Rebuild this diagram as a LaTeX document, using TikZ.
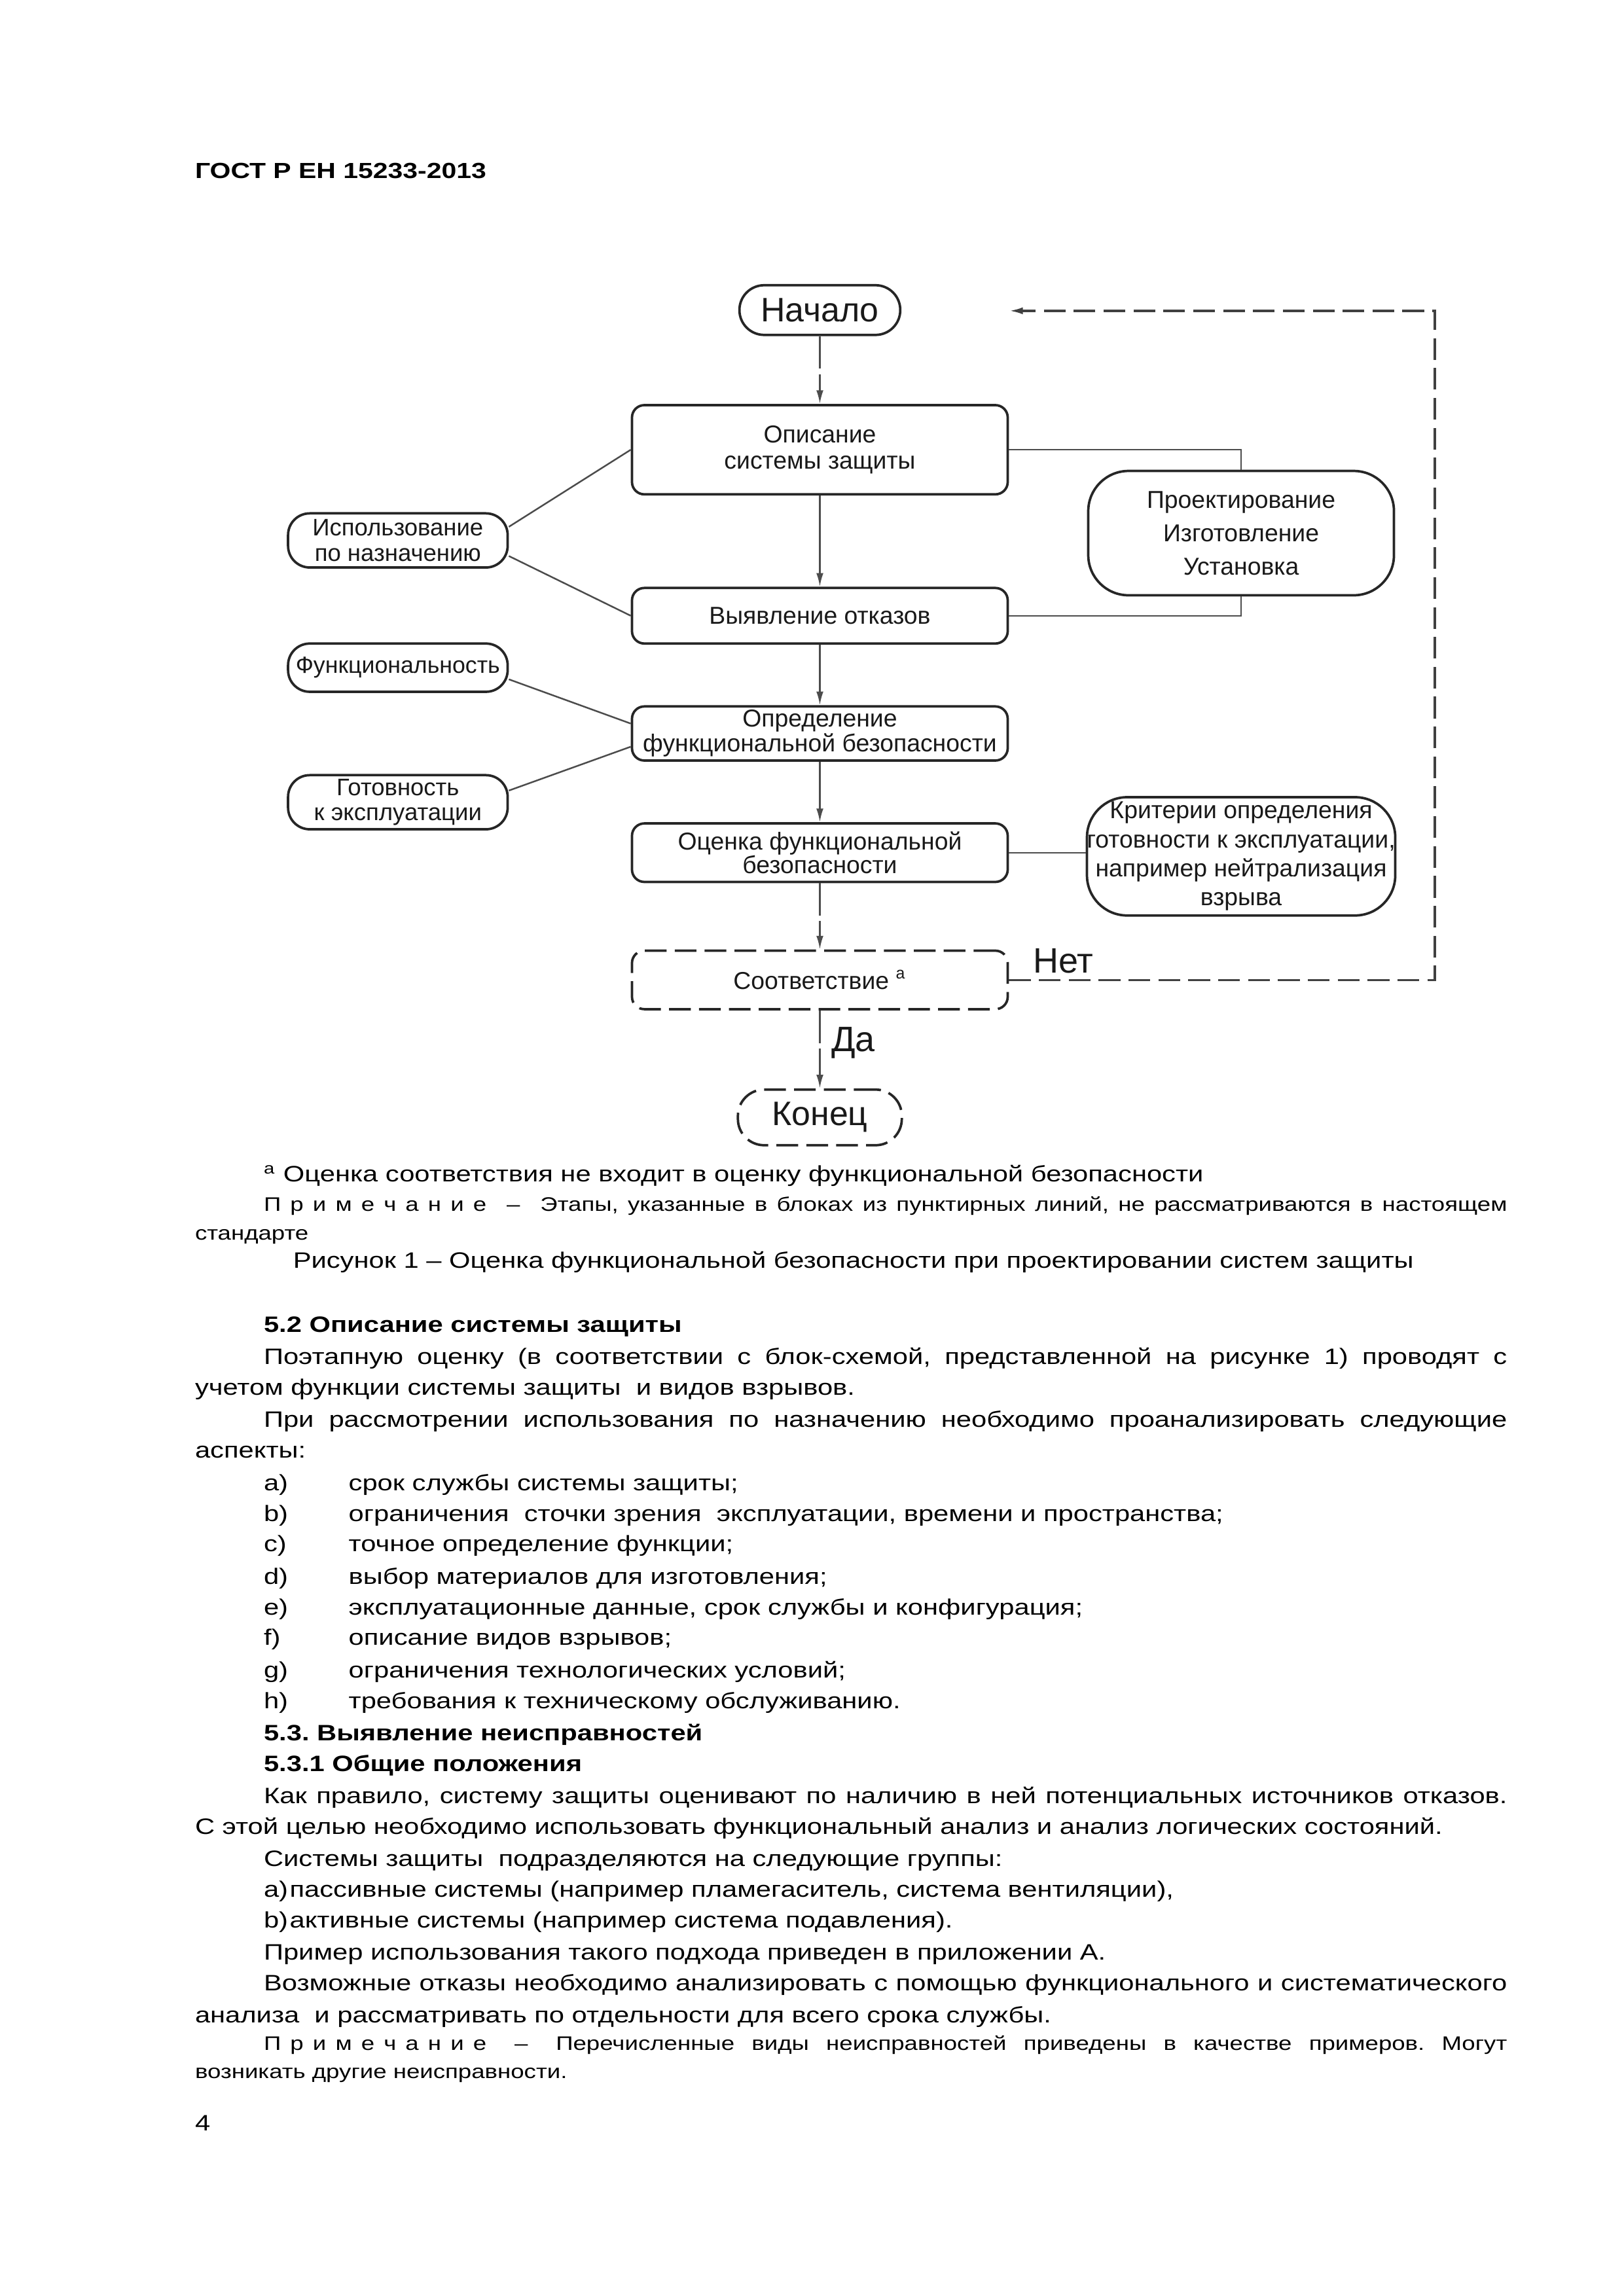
\documentclass[tikz,border=0pt]{standalone}
\usepackage{fontspec}
\setmainfont{Liberation Sans}[FakeStretch=1.225]
\newfontfamily\figfont{Liberation Sans}
\usetikzlibrary{arrows.meta}
\usetikzlibrary{calc}
\frenchspacing

\newcommand{\polnaya}[1]{\makebox[160.8mm][s]{#1}}
\newcommand{\primechanie}{П\kern3.4pt р\kern3.4pt и\kern3.4pt м\kern3.4pt е\kern3.4pt ч\kern3.4pt а\kern3.4pt н\kern3.4pt и\kern3.4pt е}

\tikzset{
  blok/.style={draw=black!85, line width=0.9pt, rounded corners=1.6mm, minimum width=48.6mm,
    align=center, inner sep=0pt, text=black!90, font=\figfont\fontsize{9}{9.6}\selectfont},
  oval/.style={blok, rounded corners=2.8mm, minimum width=28.4mm},
  punkt/.style={dash pattern=on 8pt off 3pt},
  dlin/.style={dash pattern=on 12pt off 2pt},
  svyaz/.style={draw=black!70, line width=0.6pt},
  strelka/.style={svyaz, -{Latex[length=5pt,width=2.6pt]}},
  txt/.style={anchor=base west, inner sep=0pt, font=\fontsize{8.2}{11.5}\selectfont},
  prim/.style={txt, font=\fontsize{7.2}{9.5}\selectfont},
  metka/.style={anchor=base west, inner sep=0pt, text=black!90, font=\figfont\fontsize{13}{13}\selectfont}
}

\begin{document}
\begin{tikzpicture}[x=0.189189mm, y=-0.189189mm]
          \useasboundingbox (0,0) rectangle (1110,1569.86);

          \node[txt, font=\bfseries\fontsize{8.05}{11.5}\selectfont] (zagolovok) at (133,122) {ГОСТ Р ЕН 15233-2013};

          % blocks of the scheme
          \node[oval, minimum width=20.8mm, minimum height=6.43mm, rounded corners=3.2mm,
                font=\figfont\fontsize{12.5}{14}\selectfont] (nachalo) at (560.5,212) {Начало};
          \node[blok, minimum height=11.54mm] (opis) at (560.5,307.5) {Описание\\системы защиты};
          \node[blok, minimum height=7.19mm] (vyyav) at (560.5,421) {Выявление отказов};
          \node[blok, minimum height=7.0mm, font=\figfont\fontsize{9}{9.2}\selectfont] (opred) at (560.5,501.5)
                {Определение\\функциональной безопасности};
          \node[blok, minimum height=7.57mm, font=\figfont\fontsize{9}{8.8}\selectfont] (ocenka) at (560.5,583)
                {Оценка функциональной\\безопасности};
          \node[blok, punkt, minimum height=7.57mm] (sootv) at (560.5,670) {Соответствие~\textsuperscript{a}};
          \node[oval, punkt, minimum width=21.2mm, minimum height=7.2mm, rounded corners=3.4mm,
                font=\figfont\fontsize{12.5}{14}\selectfont] (konec) at (560.5,764) {Конец};

          \node[oval, minimum height=7.0mm, font=\figfont\fontsize{8.8}{9.2}\selectfont] (ispol) at (272,369.5)
                {Использование\\по назначению};
          \node[oval, minimum height=6.24mm, font=\figfont\fontsize{8.6}{9.2}\selectfont] (funk) at (272,456.5)
                {Функциональность};
          \node[oval, minimum height=7.0mm, font=\figfont\fontsize{8.8}{9.2}\selectfont] (gotov) at (272,548.5)
                {Готовность\\к эксплуатации};

          \node[oval, minimum width=39.54mm, minimum height=16.08mm, rounded corners=5.2mm,
                font=\figfont\fontsize{9}{12.3}\selectfont] (proekt) at (848.5,364.5)
                {Проектирование\\Изготовление\\Установка};
          \node[oval, minimum width=39.54mm, minimum height=15.3mm, rounded corners=5.2mm,
                font=\figfont\fontsize{9}{10.7}\selectfont] (krit) at (848.5,585.5)
                {Критерии определения\\готовности к эксплуатации,\\например нейтрализация\\взрыва};

          % main flow
          \draw[strelka, dlin] (nachalo) -- (opis);
          \draw[strelka] (opis) -- (vyyav);
          \draw[strelka] (vyyav) -- (opred);
          \draw[strelka] (opred) -- (ocenka);
          \draw[strelka, dlin] (ocenka) -- (sootv);
          \draw[strelka, dlin] (sootv) -- (konec);

          % side links
          \draw[svyaz] (ispol.7) -- (opis.west);
          \draw[svyaz] (ispol.-8) -- (vyyav.west);
          \draw[svyaz] (funk.-6) -- (opred.177);
          \draw[svyaz] (gotov.6) -- (opred.184);
          \draw[svyaz] (opis.east) -| (proekt.north);
          \draw[svyaz] (vyyav.east) -| (proekt.south);
          \draw[svyaz] (ocenka.east) -- (ocenka.east -| krit.west);

          % back loop
          \coordinate (povorot) at (981,670);
          \coordinate (vozvrat) at (690,212.5);
          \draw[strelka, punkt, draw=black!75, line width=0.8pt] (sootv.east) -- (povorot) |- (vozvrat);
          \node[metka] (net) at (706,665) {Нет};
          \node[metka] (da) at (568,719) {Да};

          % text under the figure
          \node[txt] (snoska) at (180,808) {\textsuperscript{a} Оценка соответствия не входит в оценку функциональной безопасности};
          \node[prim] (prim1) at (180,828) {\polnaya{\primechanie\hspace{4pt} –\hspace{4pt} Этапы, указанные в блоках из пунктирных линий, не рассматриваются в настоящем}};
          \node[prim] (prim1b) at (133,848) {стандарте};
          \node[txt] (podpis) at (200,867) {Рисунок 1 – Оценка функциональной безопасности при проектировании систем защиты};

          \node[txt, font=\bfseries\fontsize{8.2}{11.5}\selectfont] (r52) at (180,911) {5.2 Описание системы защиты};
          \node[txt] (t1) at (180,933) {\polnaya{Поэтапную оценку (в соответствии с блок-схемой, представленной на рисунке 1) проводят с}};
          \node[txt] (t2) at (133,954) {учетом функции системы защиты \ и видов взрывов.};
          \node[txt] (t3) at (180,976) {\polnaya{При рассмотрении использования по назначению необходимо проанализировать следующие}};
          \node[txt] (t4) at (133,997) {аспекты:};

          \node[txt] (pa) at (180,1019) {a)};
          \node[txt] (pat) at (238,1019) {срок службы системы защиты;};
          \node[txt] (pb) at (180,1040) {b)};
          \node[txt] (pbt) at (238,1040) {ограничения \ сточки зрения \ эксплуатации, времени и пространства;};
          \node[txt] (pc) at (180,1061) {c)};
          \node[txt] (pct) at (238,1061) {точное определение функции;};
          \node[txt] (pd) at (180,1083) {d)};
          \node[txt] (pdt) at (238,1083) {выбор материалов для изготовления;};
          \node[txt] (pe) at (180,1104) {e)};
          \node[txt] (pet) at (238,1104) {эксплуатационные данные, срок службы и конфигурация;};
          \node[txt] (pf) at (180,1125) {f)};
          \node[txt] (pft) at (238,1125) {описание видов взрывов;};
          \node[txt] (pg) at (180,1147) {g)};
          \node[txt] (pgt) at (238,1147) {ограничения технологических условий;};
          \node[txt] (ph) at (180,1168) {h)};
          \node[txt] (pht) at (238,1168) {требования к техническому обслуживанию.};

          \node[txt, font=\bfseries\fontsize{8.2}{11.5}\selectfont] (r53) at (180,1190) {5.3. Выявление неисправностей};
          \node[txt, font=\bfseries\fontsize{8.2}{11.5}\selectfont] (r531) at (180,1211) {5.3.1 Общие положения};
          \node[txt] (t5) at (180,1233) {\polnaya{Как правило, систему защиты оценивают по наличию в ней потенциальных источников отказов.}};
          \node[txt] (t6) at (133,1254) {С этой целью необходимо использовать функциональный анализ и анализ логических состояний.};
          \node[txt] (t7) at (180,1276) {Системы защиты \ подразделяются на следующие группы:};
          \node[txt] (t8) at (180,1297) {a)\hspace{0.6pt}пассивные системы (например пламегаситель, система вентиляции),};
          \node[txt] (t9) at (180,1318) {b)\hspace{0.6pt}активные системы (например система подавления).};
          \node[txt] (t10) at (180,1340) {Пример использования такого подхода приведен в приложении А.};
          \node[txt] (t11) at (180,1361) {\polnaya{Возможные отказы необходимо анализировать с помощью функционального и систематического}};
          \node[txt] (t12) at (133,1383) {анализа \ и рассматривать по отдельности для всего срока службы.};
          \node[prim] (prim2) at (180,1402) {\polnaya{\primechanie\hspace{4pt} –\hspace{4pt} Перечисленные виды неисправностей приведены в качестве примеров. Могут}};
          \node[prim] (prim2b) at (133,1421) {возникать другие неисправности.};

          \node[txt] (stranica) at (133,1457) {4};

        \end{tikzpicture}
\end{document}
